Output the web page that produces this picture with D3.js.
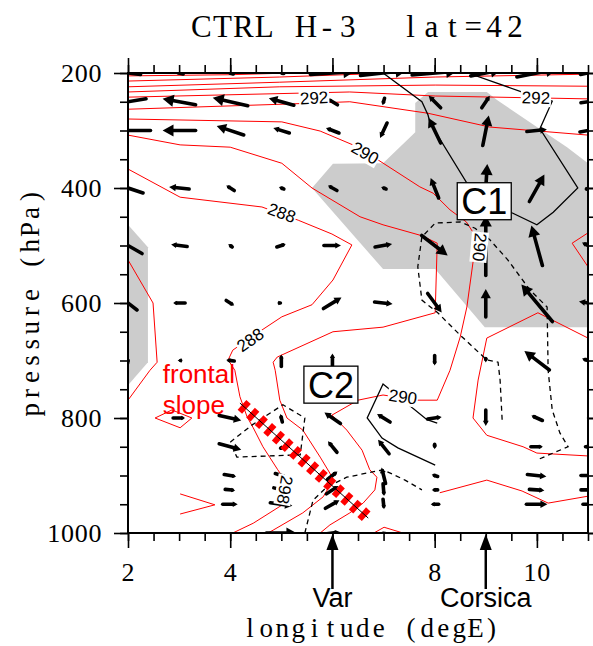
<!DOCTYPE html>
<html><head><meta charset="utf-8">
<script src="https://cdn.jsdelivr.net/npm/d3@7"></script>
<style>body{margin:0;background:#fff}svg{display:block}</style>
</head><body><svg id="c" width="593" height="646"></svg>
<script>
// ---------- DATA ----------
const lons = [2,3,4,5,6,7,8,9,10,11];
const levels = [200,250,300,400,500,600,700,800,850,900,925,950,1000];
// zonal wind u (m/s) per level row
const uWind = [
 [-12.5,-4,-3,-2.5,22,23,22.5,15,20,7.5],
 [-18,-16.5,-17.5,-12.5,-5,-1,-6,4,8,7],
 [-22.5,-16.5,-13.5,-8,-6.5,-3.5,-6,3,10,8],
 [-15,-10,-4,-2.5,-4.5,-2.5,-4,1.5,7.5,1.5],
 [-14,-8,-2,4.5,8.5,8.5,13,0,-5.5,-6],
 [-9,-6,4,1,9,9,7,0,-15.5,-9],
 [0.5,-1.5,-4,0,0,0,0,0,-12.5,-6],
 [0,6,11,-1,-8,-6.5,7,0,-5.5,-1.5],
 [0,0,11,0.5,-4.5,-5.5,0,0,6,2.5],
 [0,0,6,6,5,-2,-3,0,9.5,7],
 [0,0,5,7.5,6,0.5,-3,0,7.5,7],
 [0,0,7.5,11,7,0.5,-4,0,10.5,5],
 [0,0,0,15,7.5,2,0,0,0,0]
];
// scaled vertical wind w per level row (positive upward)
const wWind = [
 [1.5,1,1,0.5,1.5,2.5,2,3,4,1.5],
 [-3,3,4,3.5,3,-3.5,6,6,0.5,1],
 [0,0,4.5,2.5,2.5,-7.5,12.5,15,1,1.5],
 [5,1,2.5,1,2.5,1,10,24,13.5,1],
 [8,1,1.5,1.5,0,1.5,-10,30,20,3],
 [7,0,-2.5,0,5.5,-1,-9.5,14,18.5,1.5],
 [3,0,0.5,6,7,-0.5,-5,-2,9.5,2],
 [0,0,-2.5,4,5.5,4,1,-8,2.5,0],
 [0,0,-3,1.5,5.5,7,-2.5,0,0,0],
 [0,0,-1,-2,4,8,1,0,-1,0],
 [0,0,-0.5,-2,4,-6,0,0,-0.5,0],
 [0,0,0,-1.5,4,-5,0,0,0,0],
 [0,0,0,0,1,1.5,0,0,0,0]
];
// potential temperature contours [lon, hPa]
const th296 = [[2,205],[4,203],[5.17,200]];
const th295 = [[2,214],[4.97,207],[6.54,202],[7.32,200]];
const th294 = [[2,224],[4.97,216],[8.01,207],[11,202]];
const th293 = [[2,233],[4.97,224],[8.01,221],[11,223]];
const th292 = [[2,242],[5.37,235],[6.34,233],[8.01,240],[11,245]];
const th291 = [[2,263],[5.11,254],[6.34,250],[7.87,270],[9.08,294],[11,308]];
const th290 = [[2,280],[5.01,285],[5.76,301],[6.40,325],[6.89,351],[7.71,398],[7.97,409],[8.30,438],[8.62,459],[8.80,484],[8.78,510],[8.63,607],[8.50,659],[8.30,717],[8.05,769],[7.65,769],[6.99,760],[6.50,769],[5.99,795],[6.28,821],[6.58,856],[6.73,890],[6.87,903],[6.83,925],[6.60,948],[6.34,965],[5.95,986],[5.76,1000]];
const th289 = [[2,308],[3.02,325],[4.00,329],[5.01,357],[5.60,400],[6.54,450],[6.99,464],[7.75,483],[8.05,496],[8.01,617],[6.99,642],[6.01,650],[4.92,694],[4.84,703],[4.88,717],[4.97,769],[5.11,800],[5.42,821],[5.76,868],[5.95,896],[6.01,908],[5.82,937],[5.42,965],[4.84,995],[4.74,1000]];
const th288 = [[2,367],[3.02,416],[4.62,433],[5.33,456],[5.99,480],[6.38,499],[6.01,560],[5.60,603],[5.01,624],[4.62,647],[4.05,682],[3.96,699],[4.09,717],[4.19,763],[4.33,798],[4.45,817],[4.64,850],[4.93,890],[5.07,908],[5.11,946],[4.45,983],[4.05,1000]];
const th287 = [[2,525],[2.49,600],[2.57,703],[2.43,717],[2,769]];
const thDiamond = [[2.53,800],[2.86,786],[3.25,800],[3.02,817],[2.53,800]];
const thVee = [[3.02,932],[3.70,951],[3.02,967]];
const thRight = [[11,661],[10.02,617],[9.02,661],[8.85,734],[8.75,800],[9.02,830],[9.73,850],[10.0,861],[11,866]];
const thRightV = [[11,478],[10.69,496],[11,537]];
const thLow = [[8.10,930],[9.02,908],[9.71,927],[10.22,948],[11,936]];
const thBump = [[6.81,1000],[7.01,990],[7.38,1000]];
// second field, solid (positive) and dashed (negative) contours
const solidA = [[6.99,200],[7.75,250],[7.87,273],[7.91,287],[8.69,400],[8.95,412],[9.51,443],[10.0,464],[10.32,442],[10.80,400],[10.06,297],[10.30,249],[9.77,235],[8.65,200]];
const solidB = [[8.05,809],[7.85,803],[6.99,741],[6.68,800],[6.97,835],[7.28,852],[8.01,882]];
const dashD1 = [[9.32,803],[9.28,734],[9.24,703],[9.02,699],[8.50,656],[8.06,617],[7.75,595],[7.67,537],[7.75,485],[8.01,461],[8.50,459],[8.79,470],[9.08,490],[9.43,525],[9.86,577],[10.20,607],[10.22,717],[10.30,786],[10.45,826],[10.61,850],[10.0,873]];
const dashD2 = [[4.00,842],[4.43,812],[5.03,777],[5.46,800],[5.37,864],[4.13,868],[4.00,842]];
const dashD3 = [[5.46,1000],[5.62,943],[5.89,920],[6.28,903],[6.99,890],[7.42,908],[7.75,925]];
// shaded regions
const shadeC1 = [[5.60,400],[6.01,358],[6.99,357],[7.62,303],[7.62,252],[7.87,233],[9.02,233],[9.22,247],[10.0,294],[10.59,329],[11,357],[11,642],[8.98,642],[8.01,541],[6.99,541]];
const shadeW = [[2,464],[2.39,503],[2.39,703],[2,743]];
// contour labels [text, lon, hPa, angle]
const contourLabels = [["292",5.64,243,-3],["292",9.98,243,2],["290",6.64,339,30],["288",5.01,443,20],["288",4.39,664,-35],["290",8.88,503,95],["290",7.38,763,8],["298",5.07,925,100]];
// frontal slope line endpoints
const front = [[4.19,774],[6.70,974]];
// cyclone labels
const cyclones = [["C1",8.97,423],["C2",5.97,742]];
// geography markers
const places = [["Var",6],["Corsica",9]];
const xTickLabels = [2,4,8,10];
const yTickLabels = [200,400,600,800,1000];

// ---------- DRAW ----------
const svg = d3.select("#c");
const x = d3.scaleLinear([2,11],[128,588]);
const y = d3.scaleLinear([200,1000],[73,533]);
const vs = d3.scaleLinear([0,10],[0,20]);
const line = d3.line().x(d=>x(d[0])).y(d=>y(d[1]));
const sans = "Liberation Sans, Arial, Helvetica, sans-serif";
const serif = "Liberation Serif, Times New Roman, serif";

// monospaced-looking text: every glyph centred in a fixed-width cell
function mono(parent, str, x0, yb, pitch, size){
  const gg = parent.append("g");
  [...str].forEach((ch,k)=>{ if (ch!==" ") gg.append("text").attr("x",x0+pitch*(k+0.5)).attr("y",yb)
    .attr("text-anchor","middle").attr("font-family",serif).attr("font-size",size).text(ch); });
  return gg;
}

svg.append("defs").append("clipPath").attr("id","clip").append("rect")
  .attr("x",x(2)).attr("y",y(200)).attr("width",x(11)-x(2)).attr("height",y(1000)-y(200));
const g = svg.append("g").attr("clip-path","url(#clip)");

[shadeC1, shadeW].forEach(s=>g.append("path").attr("d",line(s)+"Z").attr("fill","#cccccc"));

[th296,th295,th294,th293,th292,th291,th290,th289,th288,th287,thDiamond,thVee,thRight,thRightV,thLow,thBump]
 .forEach(c=>g.append("path").attr("d",line(c)).attr("fill","none").attr("stroke","#ff0000").attr("stroke-width",1));
[solidA, solidB].forEach(c=>g.append("path").attr("d",line(c)).attr("fill","none").attr("stroke","#000").attr("stroke-width",1.3));
[dashD1,dashD2,dashD3].forEach(c=>g.append("path").attr("d",line(c)).attr("fill","none").attr("stroke","#000").attr("stroke-width",1.3).attr("stroke-dasharray","5,4"));

// vectors
levels.forEach((p,i)=>lons.forEach((lo,j)=>{
  const dx = vs(uWind[i][j]), dy = -vs(wWind[i][j]);
  const len = Math.hypot(dx,dy);
  if (len < 2) return;
  const ux = dx/len, uy = dy/len;
  const cx = x(lo), cy = y(p);
  const tx = cx - ux*len/2, ty = cy - uy*len/2;
  const hx = cx + ux*len/2, hy = cy + uy*len/2;
  const hl = Math.min(11, Math.max(4, len*0.33)), hw = hl*0.55;
  const bx = hx - ux*hl, by = hy - uy*hl;
  g.append("line").attr("x1",tx).attr("y1",ty).attr("x2",bx+ux*1).attr("y2",by+uy*1)
    .attr("stroke","#000").attr("stroke-width",3.6).attr("stroke-linecap","round");
  g.append("path").attr("d",`M${hx},${hy}L${bx-uy*hw},${by+ux*hw}L${bx+uy*hw},${by-ux*hw}Z`).attr("fill","#000");
}));

// frontal slope
const f0 = [x(front[0][0]), y(front[0][1])], f1 = [x(front[1][0]), y(front[1][1])];
const fl = Math.hypot(f1[0]-f0[0], f1[1]-f0[1]);
const fu = [(f1[0]-f0[0])/fl, (f1[1]-f0[1])/fl];
const nb = 15;
for (let k=0;k<nb;k++){
  const t = (k+0.5)/nb;
  const px = f0[0]+(f1[0]-f0[0])*t, py = f0[1]+(f1[1]-f0[1])*t;
  g.append("line").attr("x1",px-fu[1]*6.5).attr("y1",py+fu[0]*6.5).attr("x2",px+fu[1]*6.5).attr("y2",py-fu[0]*6.5)
    .attr("stroke","#ff0000").attr("stroke-width",6);
}
g.append("line").attr("x1",f0[0]).attr("y1",f0[1]).attr("x2",f1[0]).attr("y2",f1[1]).attr("stroke","#000").attr("stroke-width",1);

// contour labels
contourLabels.forEach(([t,lo,p,a])=>{
  const lg = svg.append("g").attr("transform",`translate(${x(lo)},${y(p)}) rotate(${a})`);
  const tx = lg.append("text").text(t).attr("text-anchor","middle").attr("dy","0.35em")
    .attr("font-family",sans).attr("font-size",17);
  const bb = tx.node().getBBox();
  lg.insert("rect","text").attr("x",bb.x-1).attr("y",bb.y+1).attr("width",bb.width+2).attr("height",bb.height-2).attr("fill","#fff");
});

// cyclone boxes
cyclones.forEach(([t,lo,p])=>{
  const cg = svg.append("g").attr("transform",`translate(${x(lo)},${y(p)})`);
  cg.append("rect").attr("x",-27).attr("y",-18.5).attr("width",54).attr("height",37).attr("fill","#fff").attr("stroke","#000").attr("stroke-width",1.3);
  cg.append("text").text(t).attr("text-anchor","middle").attr("y",13)
    .attr("font-family",sans).attr("font-size",36);
});

// frontal slope text
const ft = svg.append("text").attr("fill","#ff0000").attr("font-family",sans).attr("font-size",26);
ft.append("tspan").attr("x",x(2.68)).attr("y",383).text("frontal");
ft.append("tspan").attr("x",x(2.68)).attr("y",414).text("slope");

// frame
svg.append("rect").attr("x",x(2)).attr("y",y(200)).attr("width",x(11)-x(2)).attr("height",y(1000)-y(200))
  .attr("fill","none").attr("stroke","#000").attr("stroke-width",2);

// axes
const xMinor = d3.range(2,11.01,0.5), xMajor = [2,4,6,8,10];
const yMinor = d3.range(200,1001,50), yMajor = [200,400,600,800,1000];
function ax(gen, ticks, size, tr){
  const a = svg.append("g").attr("transform",tr).call(gen.tickValues(ticks).tickSize(size).tickSizeOuter(0).tickFormat(""));
  a.select(".domain").remove();
  a.selectAll("line").attr("stroke","#000").attr("stroke-width",1.6);
  return a;
}
ax(d3.axisBottom(x), xMinor, 8, `translate(0,${y(1000)})`);
ax(d3.axisBottom(x), xMajor, 15, `translate(0,${y(1000)})`);
ax(d3.axisTop(x), xMinor, 8, `translate(0,${y(200)})`);
ax(d3.axisTop(x), xMajor, 15, `translate(0,${y(200)})`);
ax(d3.axisLeft(y), yMinor, 8, `translate(${x(2)},0)`);
ax(d3.axisLeft(y), yMajor, 14, `translate(${x(2)},0)`);
ax(d3.axisRight(y), yMinor, 8, `translate(${x(11)},0)`);
ax(d3.axisRight(y), yMajor, 14, `translate(${x(11)},0)`);

const tp = 13.8;
xTickLabels.forEach(d=>{ const s=String(d); mono(svg, s, x(d)-tp*s.length/2, 581, tp, 26); });
yTickLabels.forEach(d=>{ const s=String(d); mono(svg, s, 102-tp*s.length, y(d)+8.5, tp, 26); });

// places
places.forEach(([t,lo])=>{
  svg.append("line").attr("x1",x(lo)).attr("x2",x(lo)).attr("y1",589).attr("y2",y(1000)+10).attr("stroke","#000").attr("stroke-width",2.5);
  svg.append("path").attr("d",`M${x(lo)},${y(1000)+1}L${x(lo)-6},${y(1000)+17}L${x(lo)+6},${y(1000)+17}Z`).attr("fill","#000");
  svg.append("text").attr("x",x(lo)).attr("y",607).attr("text-anchor","middle").attr("font-family",sans).attr("font-size",27).text(t);
});

// titles
mono(svg, "CTRL H-3  lat=42", 191, 37, 20.9, 31);
mono(svg, "longitude (degE)", 242, 637, 16.1, 27);
const yt = svg.append("g").attr("transform",`translate(39,${(y(200)+y(1000))/2}) rotate(-90)`);
mono(yt, "pressure (hPa)", -115, 0, 16.4, 27);
</script></body></html>
